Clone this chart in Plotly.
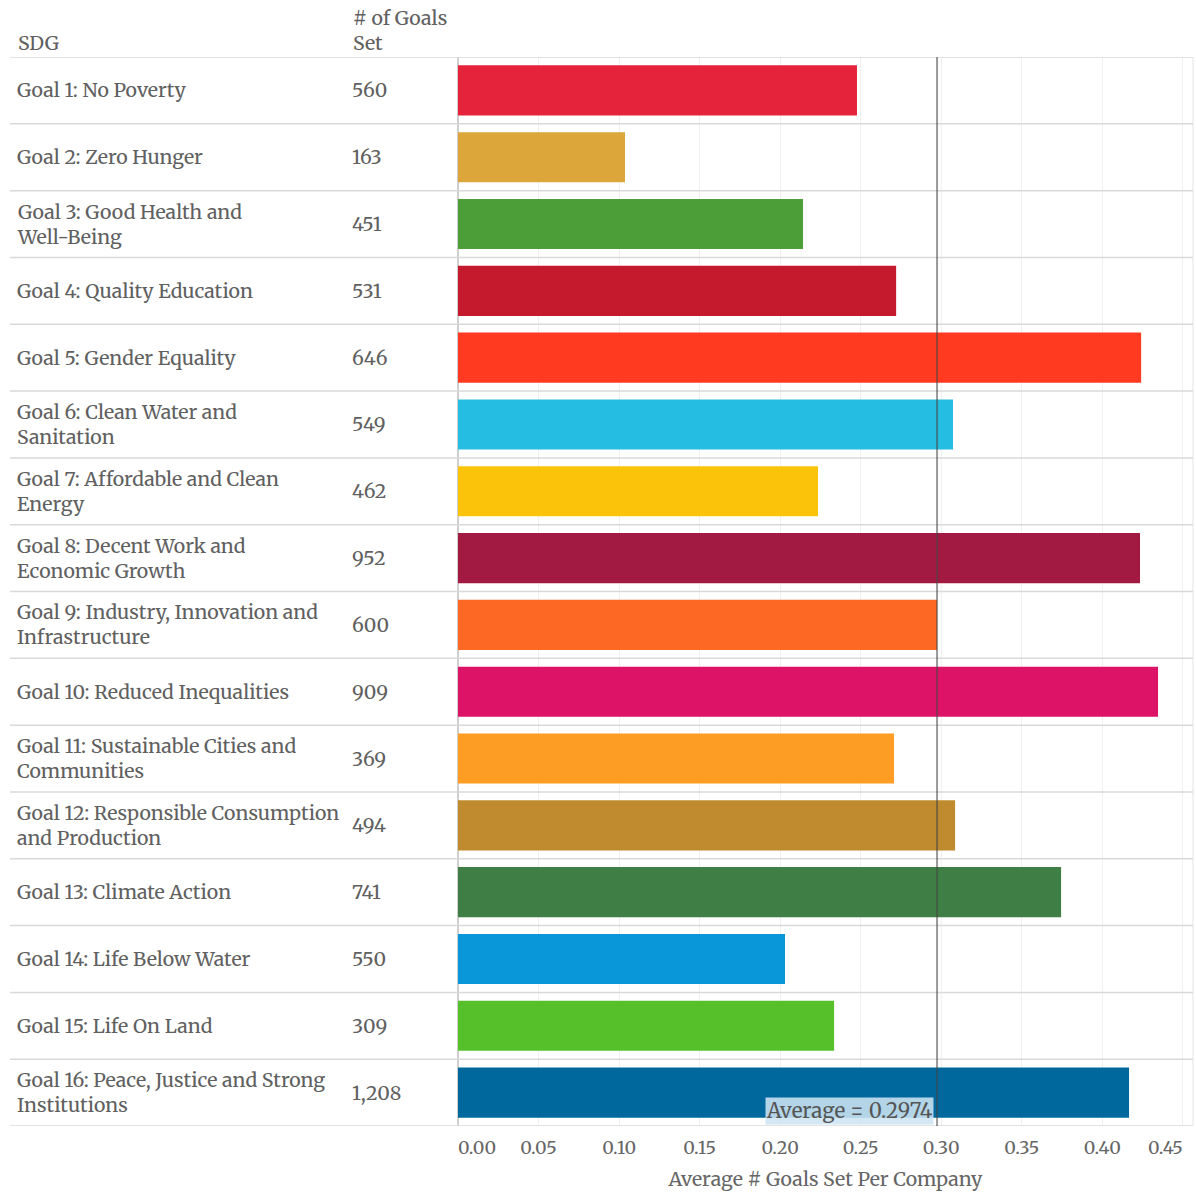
import plotly.graph_objects as go

# SDG table: label, number of goals set, average goals per company, colour
sdg_labels = [
    "Goal 1: No Poverty",
    "Goal 2: Zero Hunger",
    "Goal 3: Good Health and<br>Well-Being",
    "Goal 4: Quality Education",
    "Goal 5: Gender Equality",
    "Goal 6: Clean Water and<br>Sanitation",
    "Goal 7: Affordable and Clean<br>Energy",
    "Goal 8: Decent Work and<br>Economic Growth",
    "Goal 9: Industry, Innovation and<br>Infrastructure",
    "Goal 10: Reduced Inequalities",
    "Goal 11: Sustainable Cities and<br>Communities",
    "Goal 12: Responsible Consumption<br>and Production",
    "Goal 13: Climate Action",
    "Goal 14: Life Below Water",
    "Goal 15: Life On Land",
    "Goal 16: Peace, Justice and Strong<br>Institutions",
]
goals_set = [560, 163, 451, 531, 646, 549, 462, 952, 600, 909, 369, 494, 741, 550, 309, 1208]
avg_per_company = [0.2477, 0.1037, 0.2142, 0.2720, 0.4241, 0.3073, 0.2235, 0.4234,
                   0.2974, 0.4346, 0.2707, 0.3086, 0.3744, 0.2030, 0.2335, 0.4166]
sdg_colors = ["#E5243B", "#DDA63A", "#4C9F38", "#C5192D", "#FF3A21", "#26BDE2",
              "#FCC30B", "#A21942", "#FD6925", "#DD1367", "#FD9D24", "#BF8B2E",
              "#3F7E44", "#0A97D9", "#56C02B", "#00689D"]
average_value = 0.2974
x_ticks = [0.05, 0.10, 0.15, 0.20, 0.25, 0.30, 0.35, 0.40]
x_max = 0.4563

W, H = 1196, 1192
TOP, BOTTOM = 57, 1126
n = len(sdg_labels)
rows = list(range(n))

def px_to_paper(py):
    return (BOTTOM - py) / (BOTTOM - TOP)

serif = "Merriweather, DejaVu Serif, serif"
txt = "#606060"
label_size = 19.5

fig = go.Figure()
fig.add_trace(go.Bar(
    x=avg_per_company, y=rows, orientation="h",
    marker=dict(color=sdg_colors, line=dict(width=0)),
    width=0.75, showlegend=False, hoverinfo="x",
))
# empty traces that carry the edge tick axes
fig.add_trace(go.Scatter(x=[None], y=[None], xaxis="x2", yaxis="y", showlegend=False, hoverinfo="skip"))
fig.add_trace(go.Scatter(x=[None], y=[None], xaxis="x3", yaxis="y", showlegend=False, hoverinfo="skip"))

dom = [458 / W, 1193 / W]
tickfont = dict(family=serif, size=18, color="#666666")
common = dict(range=[0, x_max], domain=dom, anchor="y", fixedrange=True,
              ticks="", ticklabelstandoff=9, tickfont=tickfont)

fig.update_layout(
    width=W, height=H,
    margin=dict(l=0, r=0, t=TOP, b=H - BOTTOM),
    paper_bgcolor="white", plot_bgcolor="white",
    xaxis=dict(**common, tickvals=x_ticks, ticktext=[f"{v:.2f}" for v in x_ticks],
               showgrid=True, gridcolor="#f0f0f0", gridwidth=1,
               zeroline=True, zerolinecolor="#cfcfcf", zerolinewidth=2,
               title=dict(text="Average # Goals Set Per Company",
                          font=dict(family=serif, size=19.5, color="#666666"), standoff=14)),
    xaxis2=dict(**common, overlaying="x", tickvals=[0.0], ticktext=["0.00"],
                ticklabelposition="outside right", showgrid=False, zeroline=False),
    xaxis3=dict(**common, overlaying="x", tickvals=[0.45], ticktext=["0.45"],
                ticklabelposition="outside left", showgrid=True, gridcolor="#f0f0f0",
                zeroline=False),
    yaxis=dict(range=[n - 0.5, -0.5], showticklabels=False, showgrid=False,
               zeroline=False, fixedrange=True),
)

shapes = []
# row separators across the table and chart
for i in range(n + 1):
    shapes.append(dict(type="line", xref="paper", yref="y", x0=10 / W, x1=1193 / W,
                       y0=i - 0.5, y1=i - 0.5, line=dict(color="#d9d9d9", width=1.5),
                       layer="above"))
# right border of the chart pane
shapes.append(dict(type="line", xref="paper", yref="y", x0=1193 / W, x1=1193 / W,
                   y0=-0.5, y1=n - 0.5, line=dict(color="#e3e3e3", width=1)))
# average reference line
shapes.append(dict(type="line", xref="x", yref="y", x0=average_value, x1=average_value,
                   y0=-0.5, y1=n - 0.5, line=dict(color="rgba(70,70,70,0.55)", width=2),
                   layer="above"))
fig.update_layout(shapes=shapes)

ann = []
ann.append(dict(text="SDG", xref="paper", yref="paper", x=16 / W, y=px_to_paper(43),
                xanchor="left", yanchor="middle", showarrow=False,
                font=dict(family=serif, size=label_size, color=txt)))
ann.append(dict(text="# of Goals<br>Set", xref="paper", yref="paper", x=351 / W,
                y=px_to_paper(30), xanchor="left", yanchor="middle", align="left",
                showarrow=False, font=dict(family=serif, size=label_size, color=txt)))
for i, (lab, cnt) in enumerate(zip(sdg_labels, goals_set)):
    ann.append(dict(text=lab, xref="paper", yref="y", x=15 / W, y=i,
                    xanchor="left", yanchor="middle", align="left", showarrow=False,
                    font=dict(family=serif, size=label_size, color=txt)))
    ann.append(dict(text=f"{cnt:,}", xref="paper", yref="y", x=350 / W, y=i,
                    xanchor="left", yanchor="middle", showarrow=False,
                    font=dict(family=serif, size=label_size, color=txt)))
ann.append(dict(text=f"Average = {average_value}", xref="x", yref="y",
                x=average_value - 0.002, y=n - 1 + 0.27, xanchor="right", yanchor="middle",
                showarrow=False, bgcolor="rgba(205,228,242,0.88)", borderpad=0,
                font=dict(family=serif, size=20.5, color="#555555")))
fig.update_layout(annotations=ann)

fig.write_html("out.html")
